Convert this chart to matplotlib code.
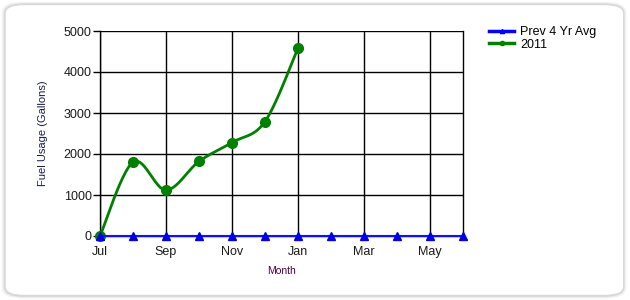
import numpy as np
import matplotlib
matplotlib.use("Agg")
import matplotlib.pyplot as plt
from matplotlib.patches import FancyBboxPatch

plt.rcParams['font.family'] = ['Liberation Sans', 'DejaVu Sans']

months = ['Jul', 'Aug', 'Sep', 'Oct', 'Nov', 'Dec', 'Jan', 'Feb', 'Mar', 'Apr', 'May', 'Jun']
prev_avg = [0, 0, 0, 0, 0, 0, 0, 0, 0, 0, 0, 0]
fuel_2011 = [0, 1800, 1120, 1820, 2280, 2790, 4580]
label_months = ['Jul', 'Sep', 'Nov', 'Jan', 'Mar', 'May']


def cardinal(xs, ys, tension=0.5, n=30):
    # smooth curve through the points, like the .NET spline chart
    xs = np.asarray(xs, float)
    ys = np.asarray(ys, float)
    px = np.concatenate([[xs[0]], xs, [xs[-1]]])
    py = np.concatenate([[ys[0]], ys, [ys[-1]]])
    outx, outy = [], []
    t = np.linspace(0, 1, n)
    h1 = 2 * t**3 - 3 * t**2 + 1
    h2 = -2 * t**3 + 3 * t**2
    h3 = t**3 - 2 * t**2 + t
    h4 = t**3 - t**2
    for i in range(1, len(px) - 2):
        m1x = tension * (px[i + 1] - px[i - 1])
        m1y = tension * (py[i + 1] - py[i - 1])
        m2x = tension * (px[i + 2] - px[i])
        m2y = tension * (py[i + 2] - py[i])
        outx.extend(h1 * px[i] + h2 * px[i + 1] + h3 * m1x + h4 * m2x)
        outy.extend(h1 * py[i] + h2 * py[i + 1] + h3 * m1y + h4 * m2y)
    return np.array(outx), np.array(outy)


fig = plt.figure(figsize=(6.3, 3.0), dpi=100)

# rounded frame with soft shadow
for k, a in enumerate([0.10, 0.15, 0.25]):
    fig.patches.append(FancyBboxPatch((0.006 + k * 0.001, 0.012 + k * 0.001), 0.985 - k * 0.002, 0.975 - k * 0.002,
                                      boxstyle="round,pad=0,rounding_size=0.03",
                                      transform=fig.transFigure, facecolor='none',
                                      edgecolor=(0.6, 0.6, 0.6, a), linewidth=3 - k, zorder=-2))
fig.patches.append(FancyBboxPatch((0.008, 0.015), 0.982, 0.97,
                                  boxstyle="round,pad=0,rounding_size=0.03",
                                  transform=fig.transFigure, facecolor='white',
                                  edgecolor='#d8d8d8', linewidth=1, zorder=-1))

ax = fig.add_axes([100 / 630, 1 - 236 / 300, 363 / 630, 205 / 300])
ax.set_facecolor('none')
x = np.arange(len(months))

ax.set_xlim(0, len(months) - 1)
ax.set_ylim(0, 5000)
ax.set_yticks(range(0, 5001, 1000))
ax.set_xticks(range(0, len(months), 2))
ax.set_xticklabels(label_months)
ax.grid(True, color='black', linewidth=1)
ax.set_axisbelow(True)
for s in ax.spines.values():
    s.set_color('black')
    s.set_linewidth(1)
ax.spines['top'].set_visible(False)
ax.tick_params(axis='y', length=5, width=1, color='black', labelsize=9, labelcolor='#1a1a1a', pad=1)
ax.tick_params(axis='x', length=0, labelsize=9, labelcolor='#1a1a1a', pad=7)

sx, sy = cardinal(x[:len(fuel_2011)], fuel_2011)
ax.plot(sx, sy, color='#008000', linewidth=2, zorder=3, clip_on=False)
ax.plot(x[:len(fuel_2011)], fuel_2011, 'o', color='#008000', markersize=7, zorder=4, clip_on=False)

ax.plot(x, prev_avg, color='#1010ff', linewidth=1.5, zorder=5, clip_on=False)
ax.plot(x, prev_avg, '^', color='#0000dd', markersize=6, zorder=5, clip_on=False)

# legend proxies
ax.plot([], [], color='#0000ff', linewidth=2.5, marker='^', markersize=3, label='Prev 4 Yr Avg')
ax.plot([], [], color='#008000', linewidth=2.5, marker='o', markersize=3, label='2011')
ax.legend(loc='upper left', bbox_to_anchor=(489 / 630, 1 - 26 / 300), bbox_transform=fig.transFigure,
          frameon=False, fontsize=9, handlelength=2.0, handletextpad=0.5, labelspacing=0.05,
          borderaxespad=0, borderpad=0)

ax.set_ylabel('Fuel Usage (Gallons)', fontsize=8, color='#1a1a4d', labelpad=11)
ax.set_xlabel('Month', fontsize=7.5, color='#4d0040', labelpad=6)

fig.savefig('out.png', dpi=100)
